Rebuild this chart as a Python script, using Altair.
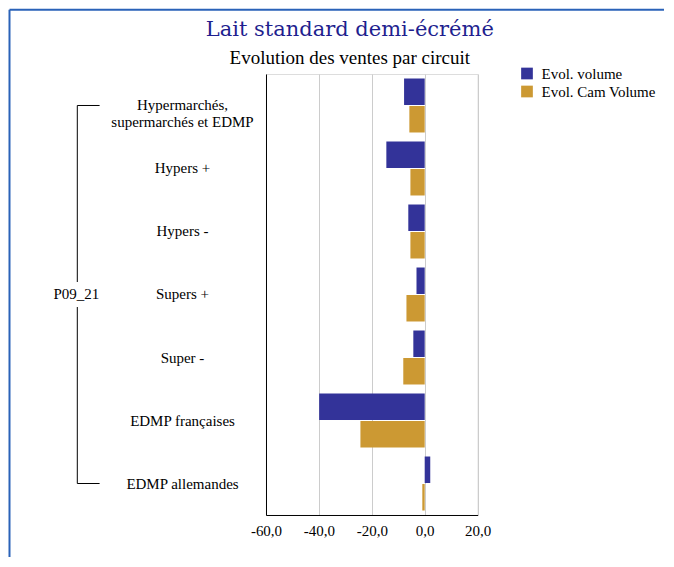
import altair as alt
import pandas as pd

categories = ["Hypermarchés, supermarchés et EDMP", "Hypers +", "Hypers -",
              "Supers +", "Super -", "EDMP françaises", "EDMP allemandes"]
series = ["Evol. volume", "Evol. Cam Volume"]
evol_volume = [-7.8, -14.5, -6.2, -3.1, -4.3, -39.9, 2.1]
evol_cam_volume = [-5.8, -5.4, -5.4, -6.9, -8.1, -24.3, -0.9]
colors = ["#333399", "#CC9933"]
x_ticks = [-60, -40, -20, 0, 20]
group_label = ["P09_21"]

rows = []
for i, c in enumerate(categories):
    rows.append({"cat": c, "series": series[0], "value": evol_volume[i]})
    rows.append({"cat": c, "series": series[1], "value": evol_cam_volume[i]})
df = pd.DataFrame(rows)

SERIF = "Liberation Serif"

yscale = alt.Scale(domain=categories, paddingInner=0.143, paddingOuter=0.0714)

label_expr = ("indexof(datum.label, ', ') > 0 ? "
              "[substring(datum.label, 0, indexof(datum.label, ', ') + 1), "
              "substring(datum.label, indexof(datum.label, ', ') + 2)] : datum.label")

bars = alt.Chart(df).mark_bar().encode(
    y=alt.Y("cat:N", sort=categories, scale=yscale,
            axis=alt.Axis(title=None, labelAlign="center", labelBaseline="middle",
                          labelPadding=84, labelLimit=400, ticks=False, tickSize=0,
                          labelFont=SERIF, labelFontSize=15, labelColor="black",
                          labelLineHeight=17, domainColor="black", grid=False,
                          labelExpr=label_expr)),
    x=alt.X("value:Q", scale=alt.Scale(domain=[-60, 20], nice=False, zero=False),
            axis=alt.Axis(title=None, values=x_ticks, ticks=False, tickSize=0,
                          labelPadding=9, labelFont=SERIF, labelFontSize=15,
                          labelFlush=False, labelOverlap=False,
                          labelColor="black", domainColor="black", grid=True,
                          gridColor="#cccccc", gridWidth=1,
                          labelExpr="(datum.value < 0 ? '-' : '') + replace(format(abs(datum.value), '.1f'), '.', ',')")),
    yOffset=alt.YOffset("series:N", sort=series, scale=alt.Scale(domain=series, paddingInner=0.037)),
    color=alt.Color("series:N", sort=series,
                    scale=alt.Scale(domain=series, range=colors),
                    legend=alt.Legend(title=None, orient="none", legendX=253.5, legendY=-8,
                                      symbolType="square", symbolSize=137,
                                      symbolStrokeWidth=0, labelFont=SERIF,
                                      labelFontSize=15, labelColor="black",
                                      labelOffset=7, rowPadding=2, padding=0)),
)

ends = pd.DataFrame({"cat": [categories[0], categories[-1]]})
ticks_h = alt.Chart(ends).mark_rule(color="black", strokeWidth=1).encode(
    y=alt.Y("cat:N", sort=categories, scale=yscale),
    x=alt.value(-188.7), x2=alt.value(-166.4),
)

vline_df = pd.DataFrame({"cat": [categories[0], categories[-1]], "seg": [0, 0]})
vline = alt.Chart(vline_df).mark_line(color="black", strokeWidth=1).encode(
    y=alt.Y("cat:N", sort=categories, scale=yscale),
    x=alt.value(-188.7),
    detail="seg:N",
)

mid_df = pd.DataFrame({"cat": [categories[3]], "label": group_label})
gap = alt.Chart(mid_df).mark_point(
    shape="M-1,-0.5L1,-0.5L1,0.5L-1,0.5Z", filled=True, color="white",
    opacity=1, size=2500, strokeWidth=0,
).encode(
    y=alt.Y("cat:N", sort=categories, scale=yscale),
    x=alt.value(-189.6),
)
group_text = alt.Chart(mid_df).mark_text(
    font=SERIF, fontSize=15, color="black", align="center", baseline="middle"
).encode(
    y=alt.Y("cat:N", sort=categories, scale=yscale),
    x=alt.value(-189.6),
    text="label:N",
)

one = pd.DataFrame({"a": [0]})
frame_top = alt.Chart(one).mark_rule(color="#2a62b8", strokeWidth=2).encode(
    x=alt.value(-256.5), x2=alt.value(398), y=alt.value(-64.2)
)
frame_left = alt.Chart(one).mark_rule(color="#2a62b8", strokeWidth=2).encode(
    x=alt.value(-256.5), y=alt.value(-64.2), y2=alt.value(483)
)

chart = alt.layer(frame_top, frame_left, bars, vline, ticks_h, gap, group_text).properties(
    width=211.6, height=441, padding=0,
    title=alt.Title(
        text="Lait standard demi-écrémé", subtitle="Evolution des ventes par circuit",
        font="DejaVu Serif", fontSize=21, fontWeight="normal", color="#1f1f8f",
        subtitleFont=SERIF, subtitleFontSize=19, subtitleColor="black",
        anchor="middle", dx=-22, offset=-59, subtitlePadding=9,
    ),
).configure_view(stroke=None).configure(background="white")

chart.save("out.html", embed_options={"renderer": "svg", "actions": False})
